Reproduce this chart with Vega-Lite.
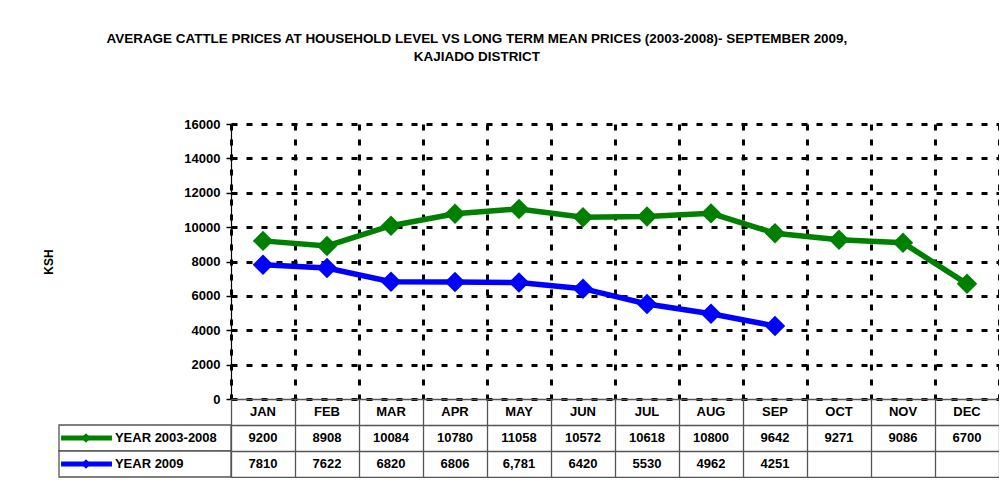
{
  "$schema": "https://vega.github.io/schema/vega-lite/v6.json",
  "padding": {"left": 42, "top": 31, "right": 0, "bottom": 0},
  "background": "white",
  "title": {
    "text": ["AVERAGE CATTLE PRICES AT HOUSEHOLD LEVEL VS LONG TERM MEAN PRICES (2003-2008)- SEPTEMBER 2009,", "KAJIADO DISTRICT"],
    "font": "Liberation Sans",
    "fontSize": 13.45,
    "fontWeight": "bold",
    "color": "black",
    "anchor": "middle",
    "lineHeight": 18,
    "dx": -44,
    "offset": 55
  },
  "datasets": {
    "prices": [
      {"month": "JAN", "series": "YEAR 2003-2008", "value": 9200, "label": "9200"},
      {"month": "FEB", "series": "YEAR 2003-2008", "value": 8908, "label": "8908"},
      {"month": "MAR", "series": "YEAR 2003-2008", "value": 10084, "label": "10084"},
      {"month": "APR", "series": "YEAR 2003-2008", "value": 10780, "label": "10780"},
      {"month": "MAY", "series": "YEAR 2003-2008", "value": 11058, "label": "11058"},
      {"month": "JUN", "series": "YEAR 2003-2008", "value": 10572, "label": "10572"},
      {"month": "JUL", "series": "YEAR 2003-2008", "value": 10618, "label": "10618"},
      {"month": "AUG", "series": "YEAR 2003-2008", "value": 10800, "label": "10800"},
      {"month": "SEP", "series": "YEAR 2003-2008", "value": 9642, "label": "9642"},
      {"month": "OCT", "series": "YEAR 2003-2008", "value": 9271, "label": "9271"},
      {"month": "NOV", "series": "YEAR 2003-2008", "value": 9086, "label": "9086"},
      {"month": "DEC", "series": "YEAR 2003-2008", "value": 6700, "label": "6700"},
      {"month": "JAN", "series": "YEAR 2009", "value": 7810, "label": "7810"},
      {"month": "FEB", "series": "YEAR 2009", "value": 7622, "label": "7622"},
      {"month": "MAR", "series": "YEAR 2009", "value": 6820, "label": "6820"},
      {"month": "APR", "series": "YEAR 2009", "value": 6806, "label": "6806"},
      {"month": "MAY", "series": "YEAR 2009", "value": 6781, "label": "6,781"},
      {"month": "JUN", "series": "YEAR 2009", "value": 6420, "label": "6420"},
      {"month": "JUL", "series": "YEAR 2009", "value": 5530, "label": "5530"},
      {"month": "AUG", "series": "YEAR 2009", "value": 4962, "label": "4962"},
      {"month": "SEP", "series": "YEAR 2009", "value": 4251, "label": "4251"}
    ],
    "months": [
      {"month": "JAN"}, {"month": "FEB"}, {"month": "MAR"}, {"month": "APR"},
      {"month": "MAY"}, {"month": "JUN"}, {"month": "JUL"}, {"month": "AUG"},
      {"month": "SEP"}, {"month": "OCT"}, {"month": "NOV"}, {"month": "DEC"}
    ],
    "series": [
      {"series": "YEAR 2003-2008"},
      {"series": "YEAR 2009"}
    ]
  },
  "columns": 2,
  "spacing": 0,
  "bounds": "flush",
  "align": "each",
  "concat": [
    {
      "width": 172,
      "height": 275,
      "data": {"name": "series"},
      "mark": {"type": "text", "opacity": 0},
      "encoding": {"text": {"field": "series"}}
    },
    {
      "width": 768,
      "height": 275,
      "data": {"name": "prices"},
      "encoding": {
        "x": {
          "field": "month",
          "type": "nominal",
          "scale": {"domain": ["JAN","FEB","MAR","APR","MAY","JUN","JUL","AUG","SEP","OCT","NOV","DEC"], "paddingInner": 0, "paddingOuter": 0},
          "axis": {
            "title": null, "labels": false, "ticks": false,
            "domain": true, "domainColor": "black", "domainWidth": 1,
            "grid": true, "gridColor": "black", "gridWidth": 3, "gridDash": [6, 9], "gridOpacity": 1,
            "tickBand": "extent"
          }
        },
        "y": {
          "field": "value",
          "type": "quantitative",
          "scale": {"domain": [0, 16000], "nice": false},
          "axis": {
            "title": "KSH",
            "titleFont": "Liberation Sans", "titleFontSize": 12, "titleFontWeight": "bold", "titleColor": "black",
            "titlePadding": 128,
            "values": [0, 2000, 4000, 6000, 8000, 10000, 12000, 14000, 16000],
            "format": "d",
            "labelFont": "Liberation Sans", "labelFontSize": 13, "labelFontWeight": "bold", "labelColor": "black",
            "labelPadding": 6,
            "ticks": true, "tickSize": 5, "tickColor": "black", "tickWidth": 1.5,
            "domain": true, "domainColor": "black", "domainWidth": 1.2,
            "grid": true, "gridColor": "black", "gridWidth": 3, "gridDash": [6, 9], "gridOpacity": 1
          }
        },
        "color": {
          "field": "series",
          "type": "nominal",
          "scale": {"domain": ["YEAR 2003-2008", "YEAR 2009"], "range": ["#008000", "#0000FF"]},
          "legend": null
        }
      },
      "layer": [
        {"mark": {"type": "line", "strokeWidth": 5.5}},
        {"mark": {"type": "point", "shape": "diamond", "filled": true, "size": 420, "opacity": 1}}
      ]
    },
    {
      "width": 172,
      "height": 78,
      "data": {"name": "series"},
      "encoding": {
        "y": {
          "field": "series",
          "type": "nominal",
          "scale": {"domain": ["hdr", "YEAR 2003-2008", "YEAR 2009"], "paddingInner": 0, "paddingOuter": 0},
          "axis": null
        }
      },
      "layer": [
        {
          "mark": {"type": "rect", "fill": "white", "stroke": "#555555", "strokeWidth": 1.3},
          "encoding": {
            "x": {"datum": 0, "type": "quantitative", "scale": {"domain": [0, 1], "nice": false}, "axis": null},
            "x2": {"datum": 1}
          }
        },
        {
          "mark": {"type": "rule", "strokeWidth": 5},
          "encoding": {
            "x": {"datum": 0.012, "type": "quantitative"},
            "x2": {"datum": 0.308},
            "color": {
              "field": "series", "type": "nominal",
              "scale": {"domain": ["YEAR 2003-2008", "YEAR 2009"], "range": ["#008000", "#0000FF"]},
              "legend": null
            }
          }
        },
        {
          "mark": {"type": "point", "shape": "diamond", "filled": true, "size": 90, "opacity": 1},
          "encoding": {
            "x": {"datum": 0.157, "type": "quantitative"},
            "color": {
              "field": "series", "type": "nominal",
              "scale": {"domain": ["YEAR 2003-2008", "YEAR 2009"], "range": ["#008000", "#0000FF"]},
              "legend": null
            }
          }
        },
        {
          "mark": {"type": "text", "align": "left", "baseline": "middle", "font": "Liberation Sans", "fontSize": 13, "fontWeight": "bold", "color": "black"},
          "encoding": {
            "x": {"datum": 0.325, "type": "quantitative"},
            "text": {"field": "series"}
          }
        }
      ]
    },
    {
      "width": 768,
      "height": 78,
      "encoding": {
        "x": {
          "field": "month",
          "type": "nominal",
          "scale": {"domain": ["JAN","FEB","MAR","APR","MAY","JUN","JUL","AUG","SEP","OCT","NOV","DEC"], "paddingInner": 0, "paddingOuter": 0},
          "axis": {
            "title": null, "labels": false, "ticks": false, "domain": false,
            "grid": true, "gridColor": "#555555", "gridWidth": 1.3, "gridOpacity": 1,
            "tickBand": "extent"
          }
        },
        "y": {
          "field": "series",
          "type": "nominal",
          "scale": {"domain": ["hdr", "YEAR 2003-2008", "YEAR 2009"], "paddingInner": 0, "paddingOuter": 0},
          "axis": {
            "title": null, "labels": false, "ticks": false, "domain": false,
            "grid": true, "gridColor": "#555555", "gridWidth": 1.3, "gridOpacity": 1,
            "tickBand": "extent"
          }
        }
      },
      "layer": [
        {
          "data": {"name": "months"},
          "mark": {"type": "text", "baseline": "middle", "font": "Liberation Sans", "fontSize": 13, "fontWeight": "bold", "color": "black"},
          "encoding": {
            "y": {"datum": "hdr", "type": "nominal"},
            "text": {"field": "month"}
          }
        },
        {
          "data": {"name": "prices"},
          "mark": {"type": "text", "baseline": "middle", "font": "Liberation Sans", "fontSize": 13, "fontWeight": "bold", "color": "black"},
          "encoding": {
            "text": {"field": "label"}
          }
        }
      ]
    }
  ],
  "config": {
    "view": {"stroke": null},
    "font": "Liberation Sans"
  }
}
